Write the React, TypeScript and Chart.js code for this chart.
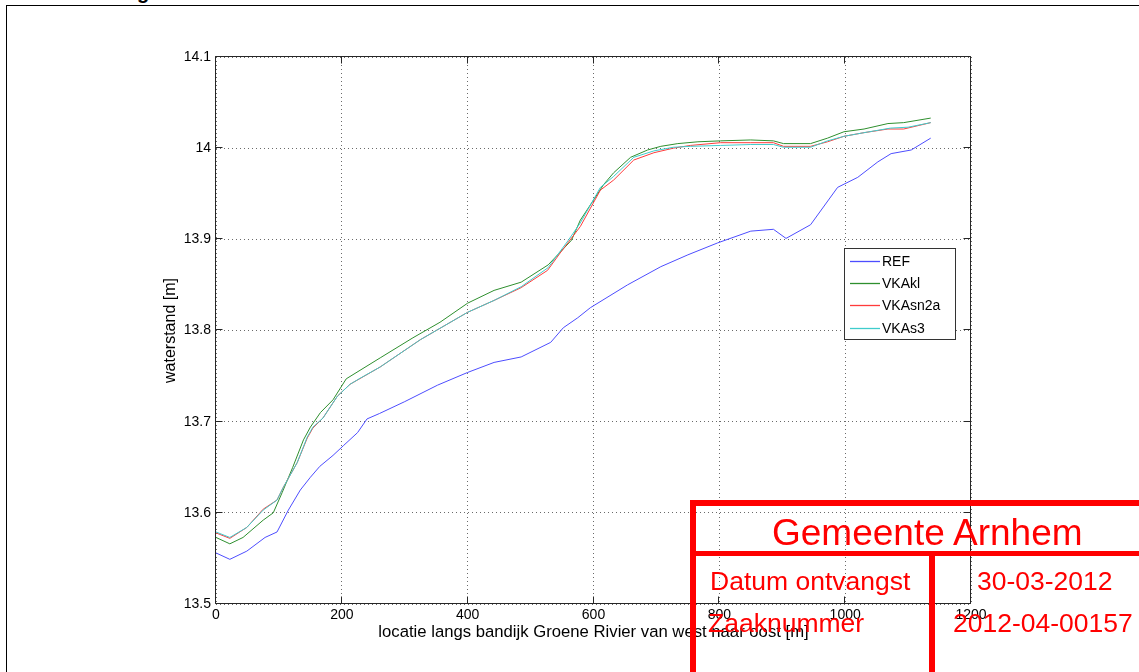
import { useEffect, useRef } from "react";
import { Chart, registerables } from "chart.js";

Chart.register(...registerables);

const xTickValues = [0, 200, 400, 600, 800, 1000, 1200];
const yTickValues = [13.5, 13.6, 13.7, 13.8, 13.9, 14, 14.1];

const seriesNames = ["REF", "VKAkl", "VKAsn2a", "VKAs3"];
const seriesColors = ["#4d4dff", "#2e8f2e", "#ff3b3b", "#3fcccc"];

const refDist = [0, 22, 49, 78, 97, 115, 134, 150, 165, 186, 203, 225, 240, 260, 300, 352, 400, 442, 485, 532, 552, 575, 595, 654, 707, 750, 797, 850, 886, 906, 945, 988, 1020, 1052, 1073, 1105, 1136];
const refLevel = [13.556, 13.549, 13.558, 13.573, 13.579, 13.603, 13.625, 13.639, 13.651, 13.663, 13.674, 13.688, 13.703, 13.709, 13.722, 13.74, 13.754, 13.765, 13.771, 13.787, 13.803, 13.814, 13.825, 13.85, 13.87, 13.883, 13.896, 13.909, 13.911, 13.901, 13.916, 13.957, 13.968, 13.985, 13.994, 13.998, 14.011];

const klDist = [0, 22, 43, 75, 91, 105, 122, 139, 150, 166, 186, 207, 261, 313, 356, 400, 442, 485, 528, 565, 579, 600, 616, 632, 659, 686, 707, 734, 766, 802, 850, 886, 902, 945, 972, 998, 1030, 1068, 1093, 1136];
const klLevel = [13.573, 13.566, 13.573, 13.592, 13.6, 13.622, 13.65, 13.68, 13.694, 13.71, 13.724, 13.747, 13.77, 13.792, 13.809, 13.83, 13.844, 13.853, 13.872, 13.899, 13.921, 13.943, 13.96, 13.973, 13.99, 13.998, 14.002, 14.005, 14.007, 14.008, 14.009, 14.008, 14.005, 14.005, 14.011, 14.018, 14.021, 14.027, 14.028, 14.033];

const sn2aDist = [0, 22, 49, 75, 97, 107, 129, 145, 154, 170, 193, 213, 261, 325, 400, 442, 485, 527, 547, 579, 611, 632, 664, 696, 727, 754, 802, 850, 886, 902, 945, 972, 998, 1030, 1068, 1093, 1136];
const sn2aLevel = [13.578, 13.572, 13.584, 13.604, 13.614, 13.628, 13.655, 13.682, 13.693, 13.704, 13.728, 13.741, 13.76, 13.79, 13.82, 13.833, 13.847, 13.866, 13.885, 13.914, 13.954, 13.965, 13.987, 13.995, 14.0, 14.003, 14.006, 14.006, 14.006, 14.002, 14.002, 14.007, 14.013, 14.017, 14.021, 14.021, 14.028];

const s3Dist = [0, 22, 49, 75, 97, 107, 129, 145, 154, 170, 193, 213, 230, 261, 325, 400, 442, 485, 528, 560, 579, 611, 632, 664, 696, 727, 754, 802, 850, 886, 902, 945, 972, 998, 1030, 1072, 1100, 1136];
const s3Level = [13.579, 13.573, 13.584, 13.603, 13.614, 13.628, 13.655, 13.683, 13.694, 13.704, 13.728, 13.741, 13.748, 13.76, 13.79, 13.82, 13.833, 13.848, 13.869, 13.899, 13.918, 13.957, 13.969, 13.99, 13.997, 14.001, 14.002, 14.003, 14.004, 14.004, 14.001, 14.001, 14.008, 14.013, 14.017, 14.022, 14.023, 14.028];

const FONT = "'Liberation Sans', Arial, Helvetica, sans-serif";

const toPoints = (xs: number[], ys: number[]) => xs.map((x, i) => ({ x, y: ys[i] }));

const framePlugin = {
  id: "matlabFrame",
  afterDraw(chart: any) {
    const { ctx, chartArea } = chart;
    const xs = chart.scales.x;
    const ys = chart.scales.y;
    const l = Math.round(chartArea.left) - 0.5;
    const r = Math.round(chartArea.right) - 0.5;
    const t = Math.round(chartArea.top) - 0.5;
    const b = Math.round(chartArea.bottom) - 0.5;
    const tl = 7;
    ctx.save();
    ctx.strokeStyle = "#262626";
    ctx.lineWidth = 1;
    ctx.setLineDash([]);
    ctx.beginPath();
    ctx.rect(l, t, r - l, b - t);
    ctx.stroke();
    ctx.beginPath();
    for (const v of xTickValues) {
      const px = Math.round(xs.getPixelForValue(v)) - 0.5;
      ctx.moveTo(px, b);
      ctx.lineTo(px, b - tl);
      ctx.moveTo(px, t);
      ctx.lineTo(px, t + tl);
    }
    for (const v of yTickValues) {
      const py = Math.round(ys.getPixelForValue(v)) - 0.5;
      ctx.moveTo(l, py);
      ctx.lineTo(l + tl, py);
      ctx.moveTo(r, py);
      ctx.lineTo(r - tl, py);
    }
    ctx.stroke();

    // legend box
    const bx = 844.5, by = 248.5, bw = 111, bh = 91;
    ctx.fillStyle = "#ffffff";
    ctx.fillRect(bx, by, bw, bh);
    ctx.strokeStyle = "#333333";
    ctx.strokeRect(bx, by, bw, bh);
    ctx.font = `14px ${FONT}`;
    ctx.textBaseline = "middle";
    ctx.textAlign = "left";
    seriesNames.forEach((name, i) => {
      const y = Math.round(261 + i * 22.2) + 0.5;
      ctx.strokeStyle = seriesColors[i];
      ctx.lineWidth = 1.3;
      ctx.beginPath();
      ctx.moveTo(850, y);
      ctx.lineTo(880, y);
      ctx.stroke();
      ctx.fillStyle = "#000";
      ctx.fillText(name, 882, y + 0.5);
    });
    ctx.restore();
  },
};

function ChartCanvas() {
  const ref = useRef<HTMLCanvasElement | null>(null);
  useEffect(() => {
    if (!ref.current) return;
    Chart.defaults.font.family = FONT;
    const orders = [3, 2, 1, 0];
    const series = [
      toPoints(refDist, refLevel),
      toPoints(klDist, klLevel),
      toPoints(sn2aDist, sn2aLevel),
      toPoints(s3Dist, s3Level),
    ];
    const chart = new Chart(ref.current, {
      type: "line",
      data: {
        datasets: series.map((d, i) => ({
          label: seriesNames[i],
          data: d,
          borderColor: seriesColors[i],
          backgroundColor: seriesColors[i],
          borderWidth: 1,
          pointRadius: 0,
          tension: 0,
          fill: false,
          order: orders[i],
        })),
      },
      options: {
        animation: false,
        responsive: false,
        devicePixelRatio: 1,
        events: [],
        layout: { padding: { left: 0, top: 57, right: 168, bottom: 0 } },
        plugins: { legend: { display: false }, tooltip: { enabled: false }, title: { display: false } },
        scales: {
          x: {
            type: "linear",
            min: 0,
            max: 1200,
            afterBuildTicks: (s: any) => {
              s.ticks = xTickValues.map((v) => ({ value: v }));
            },
            afterFit: (s: any) => {
              s.height = 68;
            },
            ticks: { color: "#000", font: { size: 14 }, padding: 3, maxRotation: 0, autoSkip: false, callback: (v: any) => String(v) },
            grid: { color: "#6a6a6a", lineWidth: 1, drawTicks: false },
            border: { display: false, dash: [1, 3] },
            title: {
              display: true,
              text: "locatie langs bandijk Groene Rivier van west naar oost [m]",
              color: "#000",
              font: { size: 16.7 },
              padding: { top: 0, bottom: 30 },
            },
          },
          y: {
            type: "linear",
            min: 13.5,
            max: 14.1,
            afterBuildTicks: (s: any) => {
              s.ticks = yTickValues.map((v) => ({ value: v }));
            },
            afterFit: (s: any) => {
              s.width = 216;
            },
            ticks: { color: "#000", font: { size: 14 }, padding: 5, autoSkip: false, callback: (v: any) => String(Math.round(Number(v) * 10) / 10) },
            grid: { color: "#6a6a6a", lineWidth: 1, drawTicks: false },
            border: { display: false, dash: [1, 3] },
            title: {
              display: true,
              text: "waterstand [m]",
              color: "#000",
              font: { size: 16 },
              padding: { top: 161, bottom: 0 },
            },
          },
        },
      },
      plugins: [framePlugin],
    } as any);
    return () => chart.destroy();
  }, []);
  return <canvas ref={ref} width={1139} height={672} style={{ position: "absolute", left: 0, top: 0, width: 1139, height: 672 }} />;
}

const red = "#ff0000";

function Bar(props: { l: number; t: number; w: number; h: number }) {
  return <div style={{ position: "absolute", left: props.l, top: props.t, width: props.w, height: props.h, background: red }} />;
}

function StampText(props: { l: number; base: number; size: number; text: string }) {
  const top = props.base - props.size * 0.8465;
  return (
    <div
      style={{
        position: "absolute",
        left: props.l,
        top,
        fontSize: props.size,
        lineHeight: `${props.size}px`,
        fontFamily: FONT,
        color: red,
        whiteSpace: "nowrap",
      }}
    >
      {props.text}
    </div>
  );
}

export default function App() {
  return (
    <div style={{ position: "fixed", left: 0, top: 0, width: 1139, height: 672, overflow: "hidden", background: "#fff" }}>
      <div
        style={{
          position: "absolute",
          left: 137,
          top: -18,
          fontFamily: FONT,
          fontWeight: "bold",
          fontSize: 20,
          lineHeight: "20px",
          color: "#000",
        }}
      >
        g
      </div>
      <div style={{ position: "absolute", left: 6, top: 5, width: 2000, height: 2000, borderLeft: "1px solid #000", borderTop: "1px solid #000" }} />
      <ChartCanvas />
      <Bar l={690} t={500} w={460} h={6} />
      <Bar l={690} t={500} w={6} h={180} />
      <Bar l={690} t={551} w={460} h={5} />
      <Bar l={929} t={556} w={6} h={120} />
      <StampText l={772} base={545} size={37} text="Gemeente Arnhem" />
      <StampText l={710} base={590} size={26.5} text="Datum ontvangst" />
      <StampText l={977} base={590} size={26.5} text="30-03-2012" />
      <StampText l={708} base={632} size={26.5} text="Zaaknummer" />
      <StampText l={953} base={632} size={26.5} text="2012-04-00157" />
    </div>
  );
}
